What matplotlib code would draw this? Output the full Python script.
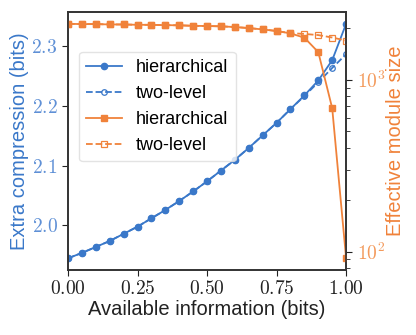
import numpy as np
import matplotlib
matplotlib.use("Agg")
import matplotlib.pyplot as plt

plt.rcParams['mathtext.fontset'] = 'cm'
plt.rcParams['font.family'] = ['Liberation Sans', 'DejaVu Sans']

# available information (bits)
info = [0.00, 0.05, 0.10, 0.15, 0.20, 0.25, 0.30, 0.35, 0.40, 0.45, 0.50,
        0.55, 0.60, 0.65, 0.70, 0.75, 0.80, 0.85, 0.90, 0.95, 1.00]

# extra compression (bits)
comp_hier = [1.945, 1.954, 1.964, 1.974, 1.986, 1.998, 2.012, 2.026, 2.041, 2.057, 2.074,
             2.092, 2.110, 2.130, 2.151, 2.172, 2.195, 2.218, 2.243, 2.277, 2.338]
comp_two = [1.945, 1.954, 1.964, 1.974, 1.986, 1.998, 2.012, 2.026, 2.041, 2.057, 2.074,
            2.092, 2.110, 2.130, 2.151, 2.172, 2.195, 2.217, 2.240, 2.264, 2.287]

# effective module size
size_hier = [2113, 2104, 2104, 2094, 2094, 2084, 2084, 2075, 2070, 2056, 2051,
             2042, 2023, 1995, 1959, 1919, 1858, 1754, 1445, 682, 91.4]
size_two = [2113, 2104, 2104, 2094, 2094, 2084, 2084, 2075, 2070, 2056, 2051,
            2042, 2023, 1995, 1959, 1919, 1862, 1845, 1816, 1758, 1687]

blue = '#3a78c9'
orange = '#f0823a'

fig = plt.figure(figsize=(4.16, 3.35), dpi=100)
ax = fig.add_axes([0.1635, 0.194, 0.6685, 0.77])
ax2 = ax.twinx()

l1, = ax.plot(info, comp_hier, '-o', color=blue, ms=4.5, lw=1.3, label='hierarchical')
l2, = ax.plot(info, comp_two, '--o', color=blue, ms=4, lw=1.3, mfc='none', mew=0.9,
              label='two-level')
l3, = ax2.plot(info, size_hier, '-s', color=orange, ms=4.5, lw=1.3, label='hierarchical')
l4, = ax2.plot(info, size_two, '--s', color=orange, ms=4, lw=1.3, mfc='none', mew=0.9,
               label='two-level')
ax2.set_yscale('log')

ax.set_xlim(0, 1)
ax.set_xticks([0, 0.25, 0.5, 0.75, 1.0])
ax.set_xticklabels([f'${v:.2f}$' for v in [0, 0.25, 0.5, 0.75, 1.0]])
ax.set_yticks([2.0, 2.1, 2.2, 2.3])
ax.set_yticklabels([f'${v:.1f}$' for v in [2.0, 2.1, 2.2, 2.3]])
ax2.set_yticks([100, 1000])
ax2.set_yticklabels([r'$10^{2}$', r'$10^{3}$'])

ax.tick_params(axis='x', labelsize=14, colors='#222222', length=4)
ax.tick_params(axis='y', labelsize=14, colors='#222222', labelcolor='#5f90d6', length=4)
ax2.tick_params(axis='y', which='both', labelsize=14, colors='#222222', labelcolor='#f39a5c')
ax2.tick_params(axis='y', which='major', length=4)
ax2.tick_params(axis='y', which='minor', length=3)

ax.set_xlabel('Available information (bits)', fontsize=14.5, color='#222222', labelpad=1)
ax.set_ylabel('Extra compression (bits)', fontsize=14.5, color=blue, labelpad=2)
ax2.set_ylabel('Effective module size', fontsize=14.5, color=orange, labelpad=1)

for a in (ax, ax2):
    for s in a.spines.values():
        s.set_color('#333333')
        s.set_linewidth(1.2)

ax2.legend([l1, l2, l3, l4], ['hierarchical', 'two-level', 'hierarchical', 'two-level'],
           loc='upper left', bbox_to_anchor=(0.04, 0.846), borderaxespad=0, fontsize=13,
           handlelength=2.0, handletextpad=0.75, frameon=True, fancybox=True,
           edgecolor='#dddddd')

fig.savefig('out.png', dpi=100)
